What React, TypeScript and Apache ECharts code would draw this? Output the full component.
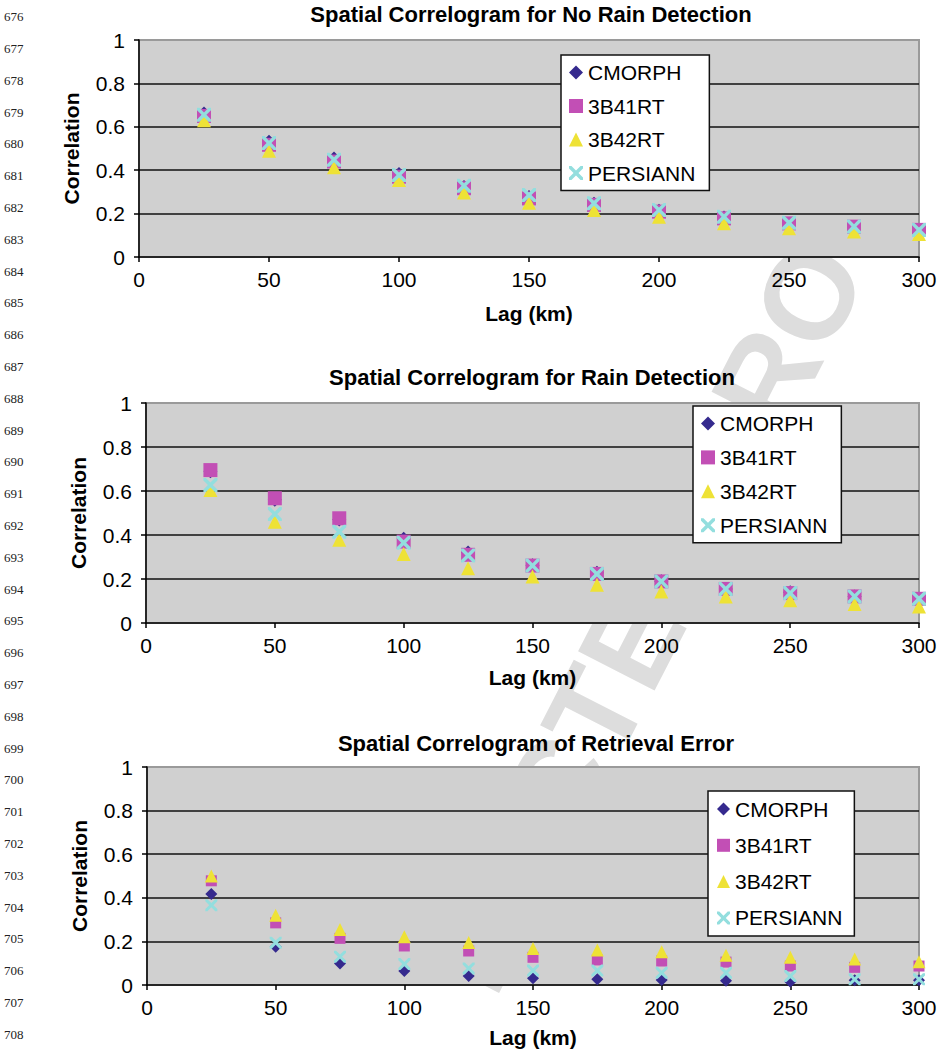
import React, { useEffect, useRef } from "react";
import * as echarts from "echarts";

// ---------- data ----------
const lags = [25, 50, 75, 100, 125, 150, 175, 200, 225, 250, 275, 300];
const seriesNames = ["CMORPH", "3B41RT", "3B42RT", "PERSIANN"];
const chartTitles = [
  "Spatial Correlogram for No Rain Detection",
  "Spatial Correlogram for Rain Detection",
  "Spatial Correlogram of Retrieval Error",
];
const xAxisTitle = "Lag (km)";
const yAxisTitle = "Correlation";

const noRainCMORPH = [0.661, 0.531, 0.454, 0.382, 0.323, 0.277, 0.245, 0.213, 0.182, 0.143, 0.128, 0.12];
const noRain3B41RT = [0.65, 0.517, 0.44, 0.37, 0.317, 0.27, 0.24, 0.209, 0.178, 0.155, 0.14, 0.125];
const noRain3B42RT = [0.63, 0.49, 0.414, 0.355, 0.297, 0.25, 0.217, 0.186, 0.155, 0.132, 0.117, 0.106];
const noRainPERSIANN = [0.655, 0.525, 0.448, 0.378, 0.328, 0.286, 0.248, 0.217, 0.186, 0.158, 0.14, 0.125];

const rainCMORPH = [0.69, 0.56, 0.47, 0.383, 0.32, 0.263, 0.228, 0.19, 0.155, 0.14, 0.121, 0.11];
const rain3B41RT = [0.695, 0.567, 0.476, 0.37, 0.31, 0.261, 0.223, 0.189, 0.155, 0.136, 0.121, 0.11];
const rain3B42RT = [0.604, 0.46, 0.378, 0.314, 0.249, 0.211, 0.174, 0.143, 0.12, 0.103, 0.086, 0.075];
const rainPERSIANN = [0.627, 0.495, 0.415, 0.365, 0.307, 0.261, 0.223, 0.189, 0.155, 0.136, 0.121, 0.11];

const errCMORPH = [0.417, 0.176, 0.099, 0.064, 0.041, 0.031, 0.026, 0.023, 0.02, 0.015, 0.022, 0.022];
const err3B41RT = [0.478, 0.285, 0.214, 0.179, 0.156, 0.127, 0.115, 0.11, 0.105, 0.087, 0.081, 0.087];
const err3B42RT = [0.5, 0.32, 0.255, 0.221, 0.195, 0.168, 0.16, 0.153, 0.137, 0.127, 0.119, 0.107];
const errPERSIANN = [0.366, 0.194, 0.13, 0.096, 0.076, 0.066, 0.066, 0.056, 0.056, 0.041, 0.026, 0.026];

const chartValues = [
  [noRainCMORPH, noRain3B41RT, noRain3B42RT, noRainPERSIANN],
  [rainCMORPH, rain3B41RT, rain3B42RT, rainPERSIANN],
  [errCMORPH, err3B41RT, err3B42RT, errPERSIANN],
];

const firstLineNumber = 676;
const lastLineNumber = 708;
const watermarkLetters = ["U", "N", "C", "O", "R", "R", "E", "C", "T", "E", "D", " ", "P", "R", "O", "O", "F"];
const watermarkLetterWidths = [0.722, 0.722, 0.722, 0.778, 0.722, 0.722, 0.667, 0.722, 0.611, 0.667, 0.722, 0.278, 0.667, 0.722, 0.778, 0.778, 0.611];

// ---------- styles ----------
const FONT = "'Liberation Sans', Arial, Helvetica, sans-serif";
const colors = ["#352a8e", "#c24fb5", "#eee236", "#93dede"];
const crossPath =
  "path://M0,0 L3.5,0 L10,6.5 L16.5,0 L20,0 L20,3.5 L13.5,10 L20,16.5 L20,20 L16.5,20 L10,13.5 L3.5,20 L0,20 L0,16.5 L6.5,10 L0,3.5 Z";
const symbols = ["diamond", "rect", "triangle", crossPath];
const symbolSizes = [
  [14, 14, 14, 14],
  [14, 14, 14, 14],
  [12, 11, 13, 12],
];

const grids = [
  { left: 139, top: 40, width: 780, height: 217 },
  { left: 146, top: 403, width: 773, height: 220 },
  { left: 147, top: 767, width: 772, height: 218 },
];
const titlePos = [
  { x: 531, y: 3 },
  { x: 532, y: 366.5 },
  { x: 536, y: 732 },
];
const xNameGaps = [45.5, 44, 42];
const legendPos = [
  { left: 561, top: 55, gap: 12.5, padding: [7, 14, 7, 8] },
  { left: 693, top: 406, gap: 12.9, padding: [7, 14, 7, 8] },
  { left: 708, top: 791, gap: 15.3, padding: [7.5, 12, 7.5, 9] },
];

// watermark layout: anchor letter (index 14, "O") centre, angle, em size
const WM_ANCHOR = { idx: 14, x: 809, y: 295 };
const WM_ANGLE = 62.8;
const WM_EM = 125;

function watermarkGraphics(): any[] {
  const rad = (WM_ANGLE * Math.PI) / 180;
  const ux = Math.cos(rad);
  const uy = -Math.sin(rad);
  const centres: number[] = [];
  let acc = 0;
  watermarkLetterWidths.forEach((w) => {
    centres.push(acc + w / 2);
    acc += w;
  });
  const out: any[] = [];
  watermarkLetters.forEach((ch, i) => {
    if (ch === " ") return;
    const d = (centres[i] - centres[WM_ANCHOR.idx]) * WM_EM;
    const cx = WM_ANCHOR.x + d * ux;
    const cy = WM_ANCHOR.y + d * uy;
    const m = 66;
    if (cx < m || cx > 944 - m || cy < m || cy > 1051 - m) return;
    out.push({
      type: "text",
      x: cx,
      y: cy,
      rotation: rad,
      silent: true,
      z: -10,
      style: {
        text: ch,
        fontFamily: FONT,
        fontWeight: "bold",
        fontSize: WM_EM,
        fill: "#dddddd",
        align: "center",
        verticalAlign: "middle",
      },
    });
  });
  return out;
}

export default function App() {
  const ref = useRef<HTMLDivElement>(null);

  useEffect(() => {
    if (!ref.current) return;
    const chart = echarts.init(ref.current, undefined, { renderer: "svg" });

    const series: any[] = [];
    chartValues.forEach((vals, k) => {
      vals.forEach((arr, i) => {
        series.push({
          type: "scatter",
          name: seriesNames[i],
          xAxisIndex: k,
          yAxisIndex: k,
          symbol: symbols[i],
          symbolSize: symbolSizes[k][i],
          symbolKeepAspect: true,
          itemStyle: { color: colors[i], opacity: 1 },
          emphasis: { disabled: true },
          data: lags.map((x, j) => [x, arr[j]]),
          z: 3,
        });
      });
    });

    const graphics: any[] = [...watermarkGraphics()];
    for (let n = firstLineNumber; n <= lastLineNumber; n++) {
      graphics.push({
        type: "text",
        x: 4,
        y: 16.7 + (n - firstLineNumber) * 31.8,
        silent: true,
        style: {
          text: String(n),
          fontFamily: "'Liberation Serif', 'Times New Roman', serif",
          fontSize: 13,
          fill: "#222",
          verticalAlign: "middle",
          align: "left",
        },
      });
    }

    const option: any = {
      animation: false,
      backgroundColor: "#ffffff",
      textStyle: { fontFamily: FONT },
      title: chartTitles.map((t, k) => ({
        text: t,
        left: titlePos[k].x,
        top: titlePos[k].y,
        textAlign: "center",
        padding: 0,
        textStyle: { fontFamily: FONT, fontSize: 22, fontWeight: "bold", color: "#000" },
      })),
      grid: grids.map((g) => ({
        ...g,
        show: true,
        backgroundColor: "#d0d0d0",
        borderColor: "#9a9a9a",
        borderWidth: 2,
      })),
      legend: legendPos.map((l, k) => ({
        orient: "vertical",
        left: l.left,
        top: l.top,
        itemGap: l.gap,
        itemWidth: k === 2 ? 13 : 14,
        itemHeight: k === 2 ? 13 : 14,
        padding: l.padding,
        backgroundColor: "#ffffff",
        borderColor: "#111",
        borderWidth: 1.5,
        borderRadius: 0,
        selectedMode: false,
        data: seriesNames,
        textStyle: { fontFamily: FONT, fontSize: 21, color: "#000" },
      })),
      xAxis: grids.map((_, k) => ({
        type: "value",
        gridIndex: k,
        min: 0,
        max: 300,
        interval: 50,
        name: xAxisTitle,
        nameLocation: "middle",
        nameGap: xNameGaps[k],
        nameTextStyle: { fontFamily: FONT, fontSize: 21, fontWeight: "bold", color: "#000" },
        axisLine: { show: true, onZero: false, lineStyle: { color: "#000", width: 1.5 } },
        axisTick: { show: true, inside: false, length: 5, lineStyle: { color: "#000", width: 1.5 } },
        axisLabel: { margin: 12, fontFamily: FONT, fontSize: 21, color: "#000" },
        splitLine: { show: false },
      })),
      yAxis: grids.map((_, k) => ({
        type: "value",
        gridIndex: k,
        min: 0,
        max: 1,
        interval: 0.2,
        name: yAxisTitle,
        nameLocation: "middle",
        nameGap: 57,
        nameTextStyle: { fontFamily: FONT, fontSize: 21, fontWeight: "bold", color: "#000" },
        axisLine: { show: true, onZero: false, lineStyle: { color: "#000", width: 1.5 } },
        axisTick: { show: true, inside: false, length: 5, lineStyle: { color: "#000", width: 1.5 } },
        axisLabel: { margin: 14, fontFamily: FONT, fontSize: 21, color: "#000" },
        splitLine: { show: true, showMinLine: false, showMaxLine: false, lineStyle: { color: "#111", width: 1.5 } },
      })),
      series,
      graphic: { elements: graphics },
    };

    chart.setOption(option);
    return () => chart.dispose();
  }, []);

  return (
    <div
      ref={ref}
      style={{ position: "absolute", left: 0, top: 0, width: 944, height: 1051, background: "#fff" }}
    />
  );
}
